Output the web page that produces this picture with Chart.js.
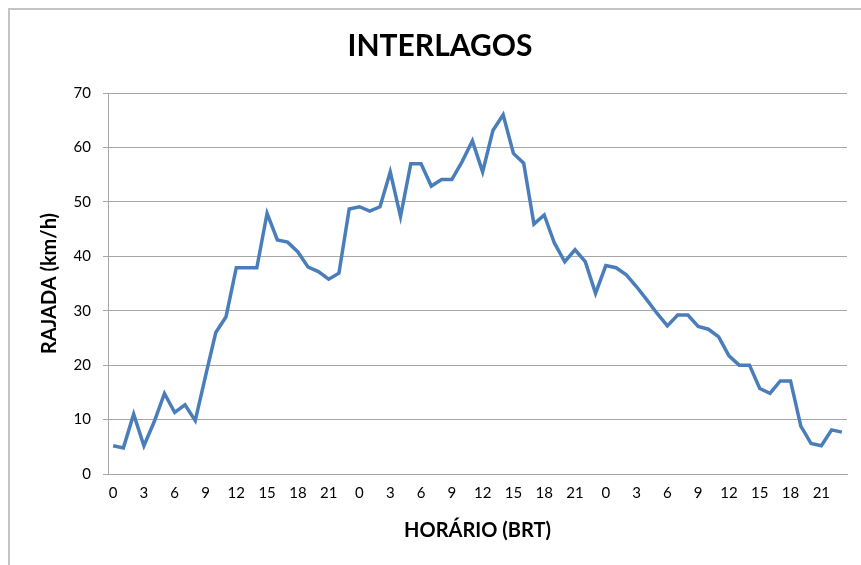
<!DOCTYPE html>
<html>
<head>
<meta charset="utf-8">
<script src="https://cdn.jsdelivr.net/npm/chart.js@4/dist/chart.umd.min.js"></script>
<style>
  html, body { margin: 0; padding: 0; background: #fff; overflow: hidden; }
  #frame { position: absolute; left: 8px; top: 8px; width: 1000px; height: 700px; border: 2px solid #c4c4c4; box-sizing: border-box; }
  #chart { position: absolute; left: 0; top: 0; }
</style>
</head>
<body>
<div id="frame"></div>
<canvas id="chart" width="861" height="565"></canvas>
<script>
// horas (BRT), 3 dias seguidos
const hours = [
  0, 1, 2, 3, 4, 5, 6, 7, 8, 9, 10, 11, 12, 13, 14, 15, 16, 17, 18, 19, 20, 21, 22, 23,
  0, 1, 2, 3, 4, 5, 6, 7, 8, 9, 10, 11, 12, 13, 14, 15, 16, 17, 18, 19, 20, 21, 22, 23,
  0, 1, 2, 3, 4, 5, 6, 7, 8, 9, 10, 11, 12, 13, 14, 15, 16, 17, 18, 19, 20, 21, 22, 23
];
// rajada de vento (km/h)
const rajada = [
  5.2, 4.8, 11.0, 5.2, 9.6, 14.8, 11.3, 12.7, 9.8, 18.0, 26.0, 28.9,
  37.9, 37.9, 37.9, 47.9, 43.0, 42.6, 40.8, 38.0, 37.2, 35.8, 36.9, 48.7,
  49.1, 48.3, 49.1, 55.5, 47.3, 57.0, 57.0, 52.9, 54.1, 54.1, 57.4, 61.2,
  55.5, 63.1, 66.0, 58.9, 57.1, 45.9, 47.6, 42.4, 39.0, 41.2, 39.0, 33.2,
  38.3, 37.9, 36.6, 34.4, 32.0, 29.5, 27.2, 29.2, 29.2, 27.1, 26.6, 25.2,
  21.7, 20.0, 20.0, 15.7, 14.8, 17.1, 17.1, 8.8, 5.6, 5.2, 8.1, 7.7
];
const yTicks = [0, 10, 20, 30, 40, 50, 60, 70];

const fontFamily = 'Lato, "Open Sans", sans-serif';
const gridColor = '#a6a6a6';

const ctx = document.getElementById('chart').getContext('2d');
new Chart(ctx, {
  type: 'line',
  data: {
    labels: hours,
    datasets: [{
      label: 'Rajada',
      data: rajada,
      borderColor: '#4a7ebb',
      borderWidth: 3.5,
      pointRadius: 0,
      tension: 0,
      fill: false
    }]
  },
  options: {
    responsive: false,
    animation: false,
    layout: { padding: { left: 33, right: 14, top: 28, bottom: 0 } },
    plugins: {
      legend: { display: false },
      tooltip: { enabled: false },
      title: {
        display: true,
        text: 'INTERLAGOS',
        color: '#000',
        font: { family: fontFamily, size: 30, weight: 'bold' },
        padding: { top: 0, bottom: 29 }
      }
    },
    scales: {
      x: {
        offset: true,
        grid: { display: false, drawTicks: false },
        border: { display: true, color: gridColor, width: 1 },
        ticks: {
          autoSkip: false,
          maxRotation: 0,
          padding: 10,
          color: '#000',
          font: { family: fontFamily, size: 15 },
          callback: function(value, index) {
            return hours[index] % 3 === 0 ? String(hours[index]) : '';
          }
        },
        title: {
          display: true,
          text: 'HORÁRIO (BRT)',
          color: '#000',
          font: { family: fontFamily, size: 20, weight: 'bold' },
          padding: { top: 4, bottom: 22 }
        },
        afterFit: function(scale) { scale.height = 91; }
      },
      y: {
        min: 0,
        max: 70,
        afterBuildTicks: function(scale) {
          scale.ticks = yTicks.map(v => ({ value: v }));
        },
        grid: { color: gridColor, lineWidth: 1, tickLength: 5, drawTicks: true },
        border: { display: true, color: gridColor, width: 1 },
        ticks: {
          padding: 12,
          color: '#000',
          font: { family: fontFamily, size: 15 }
        },
        title: {
          display: true,
          text: 'RAJADA (km/h)',
          color: '#000',
          font: { family: fontFamily, size: 20, weight: 'bold' },
          padding: { top: 5, bottom: 0 }
        },
        afterFit: function(scale) { scale.width = 75; }
      }
    }
  }
});
</script>
</body>
</html>
